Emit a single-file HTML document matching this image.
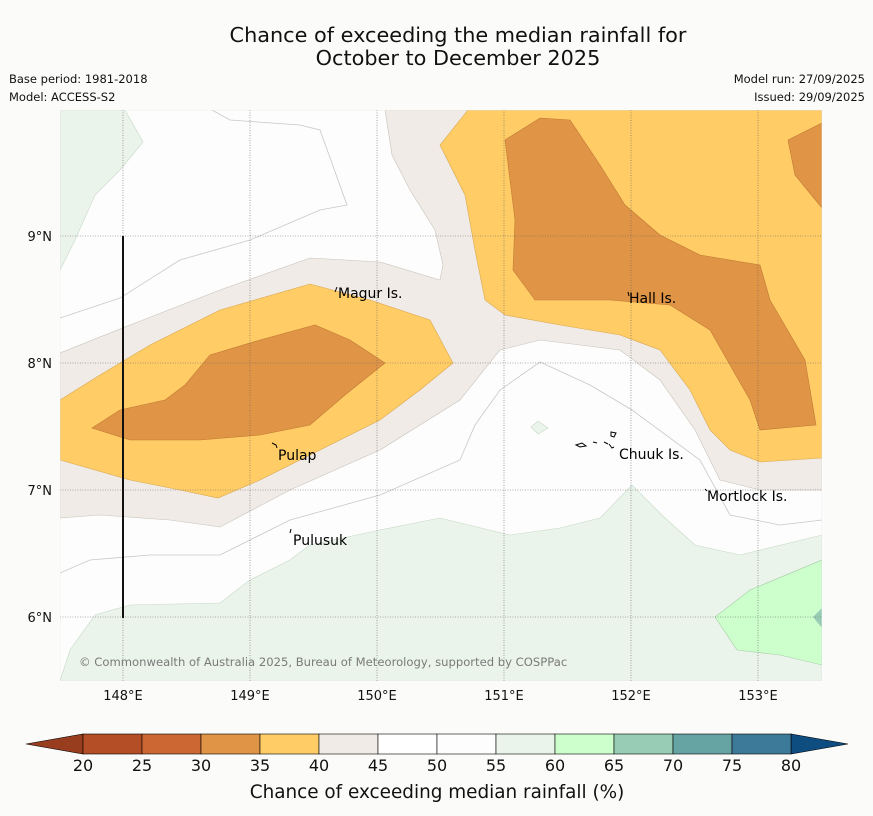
<!DOCTYPE html>
<html><head><meta charset="utf-8"><style>
body{margin:0;background:#fbfcfa;font-family:"DejaVu Sans","Liberation Sans",sans-serif;}
svg{display:block}
</style></head><body>
<svg width="873" height="816" viewBox="0 0 873 816">
<rect width="873" height="816" fill="#fbfcfa"/>
<text x="458" y="42" font-size="20.8" text-anchor="middle" fill="#111">Chance of exceeding the median rainfall for</text>
<text x="458" y="65" font-size="20.8" text-anchor="middle" fill="#111">October to December 2025</text>
<text x="9" y="83" font-size="11.5" fill="#111">Base period: 1981-2018</text>
<text x="9" y="101" font-size="11.5" fill="#111">Model: ACCESS-S2</text>
<text x="865" y="83" font-size="11.5" fill="#111" text-anchor="end">Model run: 27/09/2025</text>
<text x="865" y="101" font-size="11.5" fill="#111" text-anchor="end">Issued: 29/09/2025</text>
<defs><clipPath id="mc"><rect x="60" y="110" width="762" height="571"/></clipPath></defs>
<g clip-path="url(#mc)">
<rect x="60" y="110" width="762" height="571" fill="#fcfdfc"/>
<polygon fill="#eaf4ea" stroke="#c8d8c8" stroke-width="0.6" points="60,681 70,650 95,615 130,605 220,603 250,580 290,560 310,545 380,530 440,518 510,535 560,528 600,518 632,485 665,518 695,545 740,555 822,535 822,681"/>
<polygon fill="#eaf4ea" stroke="#c8d8c8" stroke-width="0.6" points="60,110 125,110 143,142 120,170 95,195 75,240 60,270"/>
<polygon fill="#eaf4ea" stroke="#c8d8c8" stroke-width="0.6" points="531,427 538,421 548,428 538,434"/>
<polygon fill="#ccffcc" stroke="#aaccaa" stroke-width="0.6" points="715,617 750,590 822,560 822,665 780,655 737,650"/>
<polygon fill="#99ccb4" points="822,608 813,617 822,628"/>
<polyline fill="none" stroke="#c8c8c8" stroke-width="0.8" points="60,318 120,298 180,260 250,240 320,210 347,205 320,130 300,125 230,120 212,110"/>
<polyline fill="none" stroke="#c8c8c8" stroke-width="0.8" points="60,573 90,560 150,555 220,555 290,520 380,495 460,460 475,425 500,390 540,362 590,385 632,410 700,460 730,515 780,525 822,520"/>
<polygon fill="#f0ebe6" stroke="#c9c2bb" stroke-width="0.6" points="60,353 130,325 220,290 310,258 380,262 440,280 443,265 435,230 410,190 392,155 385,110 822,110 822,490 760,490 720,480 695,430 660,380 620,350 540,340 500,350 460,400 380,450 290,490 220,527 170,520 100,515 60,518"/>
<polygon fill="#ffcc66" stroke="#d8a850" stroke-width="0.6" points="60,400 100,375 150,345 220,310 310,284 370,300 430,320 453,363 420,390 380,420 340,440 300,460 260,480 218,498 180,490 130,480 60,460"/>
<polygon fill="#ffcc66" stroke="#d8a850" stroke-width="0.6" points="468,110 822,110 822,458 760,462 730,450 710,430 690,390 660,350 620,335 560,325 505,315 485,300 475,250 465,195 440,145"/>
<polygon fill="#e09445" stroke="#c07a35" stroke-width="0.6" points="92,428 120,410 165,400 185,385 210,355 260,340 315,325 350,340 385,363 345,395 310,425 260,435 200,440 130,440"/>
<polygon fill="#e09445" stroke="#c07a35" stroke-width="0.6" points="505,140 540,118 570,120 600,165 625,205 660,235 700,255 760,265 770,300 805,360 816,425 760,430 750,400 710,330 670,305 610,300 535,300 513,270 515,220"/>
<polygon fill="#e09445" stroke="#c07a35" stroke-width="0.6" points="822,123 788,140 795,175 822,208"/>
<g stroke="#666" stroke-width="0.6" stroke-dasharray="1,1.5">
<line x1="123" y1="110" x2="123" y2="681"/><line x1="250" y1="110" x2="250" y2="681"/><line x1="377" y1="110" x2="377" y2="681"/><line x1="504" y1="110" x2="504" y2="681"/><line x1="631" y1="110" x2="631" y2="681"/><line x1="758" y1="110" x2="758" y2="681"/>
<line x1="60" y1="236" x2="822" y2="236"/><line x1="60" y1="363" x2="822" y2="363"/><line x1="60" y1="490" x2="822" y2="490"/><line x1="60" y1="617" x2="822" y2="617"/>
</g>
<line x1="123" y1="236" x2="123" y2="618" stroke="#111" stroke-width="2"/>
<g fill="none" stroke="#000" stroke-width="1">
<path d="M335,292 l2,-5"/><path d="M272,443 l4,2 l1,3"/><path d="M290,533 l1,-4"/><path d="M628,292 l1,4"/><path d="M705,489 l2,2"/>
<path d="M576,445 l6,-2 l4,3 l-6,1z"/><path d="M593,442 l4,1"/><path d="M604,442 l4,2"/><path d="M611,432 l5,1 l-2,4 l-3,-1z"/><path d="M609,444 l3,4 l2,-1"/>
</g>
<g font-size="14" fill="#000">
<text x="338" y="298">Magur Is.</text><text x="629" y="303">Hall Is.</text><text x="278" y="460">Pulap</text><text x="619" y="459">Chuuk Is.</text><text x="707" y="501">Mortlock Is.</text><text x="293" y="545">Pulusuk</text>
</g>
<text x="79" y="666" font-size="11.6" fill="#7a7a7a">© Commonwealth of Australia 2025, Bureau of Meteorology, supported by COSPPac</text>
<rect x="60" y="110" width="762" height="571" fill="none" stroke="#e8e8e8" stroke-width="0.6"/>
</g>
<g font-size="13" fill="#111">
<text x="123" y="700" text-anchor="middle">148°E</text><text x="250" y="700" text-anchor="middle">149°E</text><text x="377" y="700" text-anchor="middle">150°E</text><text x="504" y="700" text-anchor="middle">151°E</text><text x="631" y="700" text-anchor="middle">152°E</text><text x="758" y="700" text-anchor="middle">153°E</text>
<text x="52" y="241" text-anchor="end">9°N</text><text x="52" y="368" text-anchor="end">8°N</text><text x="52" y="495" text-anchor="end">7°N</text><text x="52" y="622" text-anchor="end">6°N</text>
</g>
<g id="cbar"></g>
<text x="437" y="798" font-size="18.4" text-anchor="middle" fill="#111">Chance of exceeding median rainfall (%)</text>
</svg>
<script>
const levels=[20,25,30,35,40,45,50,55,60,65,70,75,80];
const binColors=["#b34e27","#cc6633","#e09445","#ffcc66","#f0ebe6","#ffffff","#fcfdfc","#eaf4ea","#ccffcc","#99ccb4","#66a3a3","#3d7a99"];
const lowColor="#993d1f", highColor="#0d4d80";
const NS="http://www.w3.org/2000/svg";
const g=document.getElementById('cbar');
const x0=83,x1=791,y0=734,h=20;
const sx=v=>x0+(v-levels[0])/(levels[levels.length-1]-levels[0])*(x1-x0);
function mk(t,a){const e=document.createElementNS(NS,t);for(const k in a)e.setAttribute(k,a[k]);g.appendChild(e);return e;}
const lt=mk('polygon',{points:`${x0},${y0} ${x0},${y0+h} 26,${y0+h/2}`,fill:lowColor,stroke:'#000','stroke-width':0.6});


const rt=mk('polygon',{points:`${x1},${y0} ${x1},${y0+h} 848,${y0+h/2}`,fill:highColor,stroke:'#000','stroke-width':0.6});


for(let i=0;i<binColors.length;i++){
  const r=mk('rect',{x:sx(levels[i]),y:y0,width:sx(levels[i+1])-sx(levels[i]),height:h,fill:binColors[i],stroke:'#000','stroke-width':0.6});
  
  
}
levels.forEach(v=>{
  const t=mk('text',{x:sx(v),y:771,'font-size':16,'text-anchor':'middle',fill:'#111'});
  t.textContent=v;
  
  
});
</script>
</body></html>
